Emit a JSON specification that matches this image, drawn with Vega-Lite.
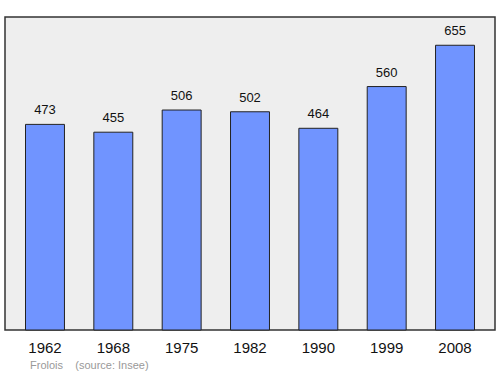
{
  "$schema": "https://vega.github.io/schema/vega-lite/v6.json",
  "width": 490,
  "height": 313,
  "autosize": {"type": "none"},
  "padding": {"left": 5, "top": 17, "right": 5, "bottom": 44},
  "background": "white",
  "config": {
    "view": {"fill": "#eeeeee", "stroke": "#333333", "strokeWidth": 1.5},
    "font": "Liberation Sans"
  },
  "title": {
    "text": "Frolois\u00a0\u00a0\u00a0\u00a0(source: Insee)",
    "orient": "bottom",
    "anchor": "start",
    "dx": 25,
    "offset": 5,
    "fontSize": 11,
    "fontWeight": "normal",
    "color": "#999999",
    "font": "Liberation Sans"
  },
  "data": {
    "values": [
      {"year": "1962", "pop": 473},
      {"year": "1968", "pop": 455},
      {"year": "1975", "pop": 506},
      {"year": "1982", "pop": 502},
      {"year": "1990", "pop": 464},
      {"year": "1999", "pop": 560},
      {"year": "2008", "pop": 655}
    ]
  },
  "encoding": {
    "x": {
      "field": "year",
      "type": "nominal",
      "scale": {"paddingInner": 0.43, "paddingOuter": 0.3},
      "axis": {
        "title": null,
        "labelAngle": 0,
        "domain": false,
        "ticks": false,
        "labelPadding": 10,
        "labelFontSize": 15,
        "labelColor": "#111111",
        "labelFont": "Liberation Sans"
      }
    },
    "y": {
      "field": "pop",
      "type": "quantitative",
      "scale": {"domain": [0, 720], "nice": false},
      "axis": null
    }
  },
  "layer": [
    {
      "mark": {"type": "bar", "fill": "#7094ff", "stroke": "#222222", "strokeWidth": 1}
    },
    {
      "mark": {"type": "text", "baseline": "bottom", "dy": -7, "fontSize": 13, "color": "#111111", "font": "Liberation Sans"},
      "encoding": {"text": {"field": "pop", "type": "quantitative"}}
    }
  ]
}
